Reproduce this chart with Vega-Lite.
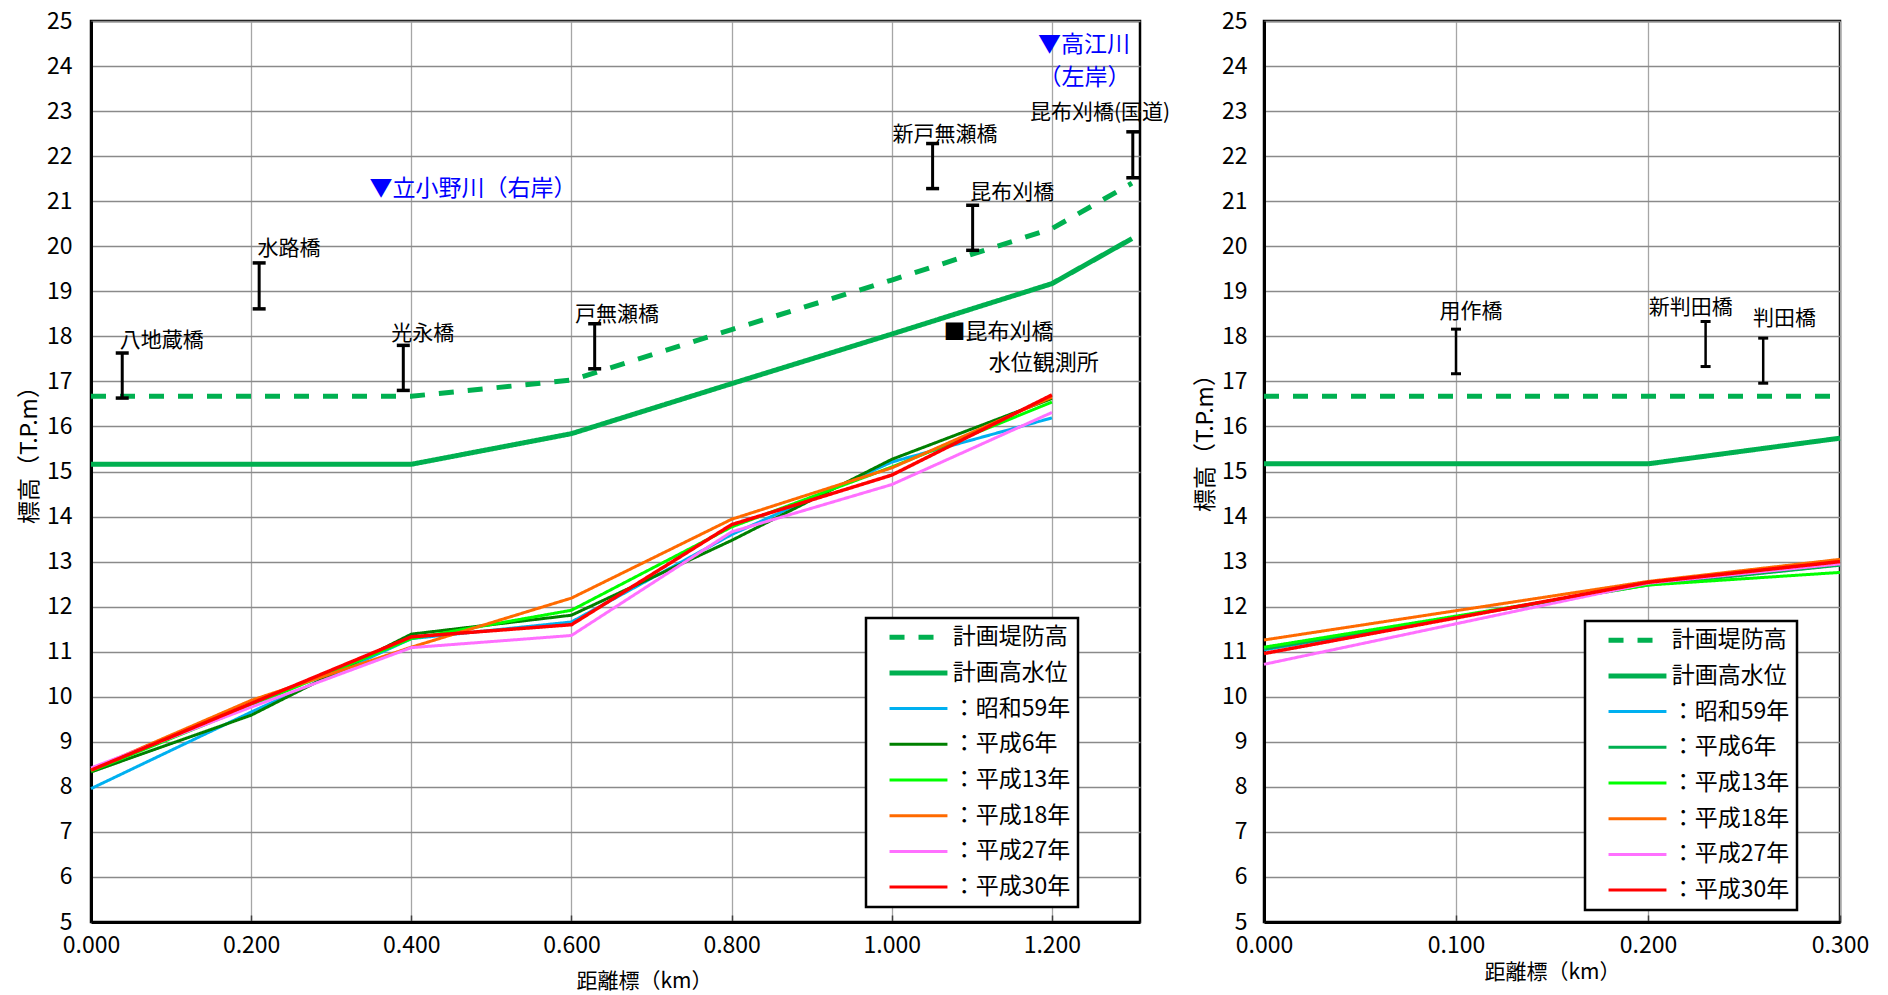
{
  "$schema": "https://vega.github.io/schema/vega-lite/v6.json",
  "padding": {"left": 16, "top": 8, "right": 0, "bottom": 0},
  "background": "white",
  "datasets": {
    "profileL": [
      {"series": "計画堤防高", "km": 0, "elev": 16.67},
      {"series": "計画堤防高", "km": 0.2, "elev": 16.67},
      {"series": "計画堤防高", "km": 0.4, "elev": 16.67},
      {"series": "計画堤防高", "km": 0.6, "elev": 17.03},
      {"series": "計画堤防高", "km": 0.8, "elev": 18.15},
      {"series": "計画堤防高", "km": 1.0, "elev": 19.25},
      {"series": "計画堤防高", "km": 1.2, "elev": 20.39},
      {"series": "計画堤防高", "km": 1.3, "elev": 21.4},
      {"series": "計画高水位", "km": 0, "elev": 15.16},
      {"series": "計画高水位", "km": 0.2, "elev": 15.16},
      {"series": "計画高水位", "km": 0.4, "elev": 15.16},
      {"series": "計画高水位", "km": 0.6, "elev": 15.84},
      {"series": "計画高水位", "km": 0.8, "elev": 16.95},
      {"series": "計画高水位", "km": 1.0, "elev": 18.05},
      {"series": "計画高水位", "km": 1.2, "elev": 19.17},
      {"series": "計画高水位", "km": 1.3, "elev": 20.17},
      {"series": "：昭和59年", "km": 0, "elev": 7.96},
      {"series": "：昭和59年", "km": 0.2, "elev": 9.66},
      {"series": "：昭和59年", "km": 0.4, "elev": 11.29},
      {"series": "：昭和59年", "km": 0.6, "elev": 11.66},
      {"series": "：昭和59年", "km": 0.8, "elev": 13.6},
      {"series": "：昭和59年", "km": 1.0, "elev": 15.21},
      {"series": "：昭和59年", "km": 1.2, "elev": 16.19},
      {"series": "：平成6年", "km": 0, "elev": 8.33},
      {"series": "：平成6年", "km": 0.2, "elev": 9.59},
      {"series": "：平成6年", "km": 0.4, "elev": 11.39},
      {"series": "：平成6年", "km": 0.6, "elev": 11.81},
      {"series": "：平成6年", "km": 0.8, "elev": 13.47},
      {"series": "：平成6年", "km": 1.0, "elev": 15.27},
      {"series": "：平成6年", "km": 1.2, "elev": 16.62},
      {"series": "：平成13年", "km": 0, "elev": 8.35},
      {"series": "：平成13年", "km": 0.2, "elev": 9.8},
      {"series": "：平成13年", "km": 0.4, "elev": 11.29},
      {"series": "：平成13年", "km": 0.6, "elev": 11.92},
      {"series": "：平成13年", "km": 0.8, "elev": 13.77},
      {"series": "：平成13年", "km": 1.0, "elev": 15.1},
      {"series": "：平成13年", "km": 1.2, "elev": 16.54},
      {"series": "：平成18年", "km": 0, "elev": 8.38},
      {"series": "：平成18年", "km": 0.2, "elev": 9.92},
      {"series": "：平成18年", "km": 0.4, "elev": 11.1},
      {"series": "：平成18年", "km": 0.6, "elev": 12.19},
      {"series": "：平成18年", "km": 0.8, "elev": 13.94},
      {"series": "：平成18年", "km": 1.0, "elev": 15.08},
      {"series": "：平成18年", "km": 1.2, "elev": 16.65},
      {"series": "：平成27年", "km": 0, "elev": 8.42},
      {"series": "：平成27年", "km": 0.2, "elev": 9.77},
      {"series": "：平成27年", "km": 0.4, "elev": 11.09},
      {"series": "：平成27年", "km": 0.6, "elev": 11.36},
      {"series": "：平成27年", "km": 0.8, "elev": 13.66},
      {"series": "：平成27年", "km": 1.0, "elev": 14.71},
      {"series": "：平成27年", "km": 1.2, "elev": 16.31},
      {"series": "：平成30年", "km": 0, "elev": 8.37},
      {"series": "：平成30年", "km": 0.2, "elev": 9.85},
      {"series": "：平成30年", "km": 0.4, "elev": 11.33},
      {"series": "：平成30年", "km": 0.6, "elev": 11.6},
      {"series": "：平成30年", "km": 0.8, "elev": 13.82},
      {"series": "：平成30年", "km": 1.0, "elev": 14.92},
      {"series": "：平成30年", "km": 1.2, "elev": 16.7}
    ],
    "profileR": [
      {"series": "計画堤防高", "km": 0, "elev": 16.67},
      {"series": "計画堤防高", "km": 0.3, "elev": 16.67},
      {"series": "計画高水位", "km": 0, "elev": 15.17},
      {"series": "計画高水位", "km": 0.2, "elev": 15.17},
      {"series": "計画高水位", "km": 0.3, "elev": 15.74},
      {"series": "：昭和59年", "km": 0, "elev": 11.04},
      {"series": "：昭和59年", "km": 0.2, "elev": 12.5},
      {"series": "：昭和59年", "km": 0.3, "elev": 12.93},
      {"series": "：平成6年", "km": 0, "elev": 11.06},
      {"series": "：平成6年", "km": 0.2, "elev": 12.48},
      {"series": "：平成6年", "km": 0.3, "elev": 12.92},
      {"series": "：平成13年", "km": 0, "elev": 11.1},
      {"series": "：平成13年", "km": 0.2, "elev": 12.48},
      {"series": "：平成13年", "km": 0.3, "elev": 12.76},
      {"series": "：平成18年", "km": 0, "elev": 11.26},
      {"series": "：平成18年", "km": 0.2, "elev": 12.56},
      {"series": "：平成18年", "km": 0.3, "elev": 13.05},
      {"series": "：平成27年", "km": 0, "elev": 10.72},
      {"series": "：平成27年", "km": 0.2, "elev": 12.52},
      {"series": "：平成27年", "km": 0.3, "elev": 12.95},
      {"series": "：平成30年", "km": 0, "elev": 10.96},
      {"series": "：平成30年", "km": 0.2, "elev": 12.54},
      {"series": "：平成30年", "km": 0.3, "elev": 13.0}
    ],
    "bridgesL": [
      {"bridge": "八地蔵橋", "km": 0.039, "top": 17.63, "bottom": 16.63},
      {"bridge": "水路橋", "km": 0.21, "top": 19.63, "bottom": 18.61},
      {"bridge": "光永橋", "km": 0.39, "top": 17.8, "bottom": 16.8},
      {"bridge": "戸無瀬橋", "km": 0.629, "top": 18.28, "bottom": 17.28},
      {"bridge": "新戸無瀬橋", "km": 1.051, "top": 22.28, "bottom": 21.28},
      {"bridge": "昆布刈橋", "km": 1.101, "top": 20.91, "bottom": 19.91},
      {"bridge": "昆布刈橋(国道)", "km": 1.301, "top": 22.54, "bottom": 21.52}
    ],
    "bridgesR": [
      {"bridge": "用作橋", "km": 0.1, "top": 18.16, "bottom": 17.17},
      {"bridge": "新判田橋", "km": 0.23, "top": 18.33, "bottom": 17.33},
      {"bridge": "判田橋", "km": 0.26, "top": 17.96, "bottom": 16.96}
    ],
    "labelsL": [
      {"label": "八地蔵橋", "kind": "bridge", "km": 0.036, "elev": 17.9},
      {"label": "水路橋", "kind": "bridge", "km": 0.208, "elev": 19.95},
      {"label": "光永橋", "kind": "bridge", "km": 0.375, "elev": 18.06},
      {"label": "戸無瀬橋", "kind": "bridge", "km": 0.6045, "elev": 18.47},
      {"label": "新戸無瀬橋", "kind": "bridge", "km": 1.001, "elev": 22.48},
      {"label": "昆布刈橋", "kind": "bridge", "km": 1.098, "elev": 21.18},
      {"label": "昆布刈橋(国道)", "kind": "bridge", "km": 1.1725, "elev": 22.96},
      {"label": "▼立小野川（右岸）", "kind": "tributary", "km": 0.4769, "elev": 21.28},
      {"label": "▼高江川", "kind": "tributary", "km": 1.24, "elev": 24.47},
      {"label": "（左岸）", "kind": "tributary", "km": 1.2406, "elev": 23.74},
      {"label": "■昆布刈橋", "kind": "station", "km": 1.0646, "elev": 18.1},
      {"label": "水位観測所", "kind": "station", "km": 1.121, "elev": 17.41}
    ],
    "labelsR": [
      {"label": "用作橋", "kind": "bridge", "km": 0.0914, "elev": 18.53},
      {"label": "新判田橋", "kind": "bridge", "km": 0.2004, "elev": 18.64},
      {"label": "判田橋", "kind": "bridge", "km": 0.2547, "elev": 18.39}
    ]
  },
  "spacing": 124,
  "bounds": "flush",
  "resolve": {
    "scale": {"color": "independent", "strokeDash": "independent", "x": "independent", "y": "independent"},
    "legend": {"color": "independent", "strokeDash": "independent"}
  },
  "hconcat": [
    {
      "width": 1049,
      "height": 901,
      "layer": [
        {
          "data": {"name": "profileL"},
          "mark": {"type": "line", "strokeJoin": "round"},
          "encoding": {
            "x": {
              "field": "km", "type": "quantitative",
              "scale": {"domain": [0, 1.31], "nice": false, "zero": false},
              "axis": {"values": [0, 0.2, 0.4, 0.6, 0.8, 1.0, 1.2], "format": ".3f", "title": "距離標（km）", "titleX": 553, "titleY": 59, "titleBaseline": "middle"}
            },
            "y": {
              "field": "elev", "type": "quantitative",
              "scale": {"domain": [5, 25], "nice": false, "zero": false},
              "axis": {"values": [5, 6, 7, 8, 9, 10, 11, 12, 13, 14, 15, 16, 17, 18, 19, 20, 21, 22, 23, 24, 25], "title": "標高（T.P.m）", "titleX": -62, "titleY": 428, "titleBaseline": "middle", "labelPadding": 19}
            },
            "color": {
              "field": "series", "type": "nominal",
              "scale": {
                "domain": ["計画堤防高", "計画高水位", "：昭和59年", "：平成6年", "：平成13年", "：平成18年", "：平成27年", "：平成30年"],
                "range": ["#00b050", "#00b050", "#00b0f0", "#008000", "#00ff00", "#ff6a00", "#ff70ff", "#ff0000"]
              },
              "legend": {"legendX": 775, "legendY": 597, "encode": {"symbols": {"update": {"strokeWidth": {"signal": "indexof(['計画堤防高','計画高水位'], datum.value) >= 0 ? 5 : 3"}}}}}
            },
            "strokeDash": {
              "field": "series", "type": "nominal",
              "scale": {
                "domain": ["計画堤防高", "計画高水位", "：昭和59年", "：平成6年", "：平成13年", "：平成18年", "：平成27年", "：平成30年"],
                "range": [[15, 14], [1, 0], [1, 0], [1, 0], [1, 0], [1, 0], [1, 0], [1, 0]]
              },
              "legend": {"legendX": 775, "legendY": 597}
            },
            "strokeWidth": {
              "condition": [
                {"test": "datum.series === '計画堤防高' || datum.series === '計画高水位'", "value": 5},
                {"test": "datum.series === '：平成30年'", "value": 3.5}
              ],
              "value": 3
            }
          }
        },
        {
          "data": {"name": "bridgesL"},
          "mark": {"type": "rule", "color": "black", "strokeWidth": 3},
          "encoding": {"x": {"field": "km", "type": "quantitative"}, "y": {"field": "top", "type": "quantitative"}, "y2": {"field": "bottom"}}
        },
        {
          "data": {"name": "bridgesL"},
          "mark": {"type": "tick", "orient": "horizontal", "color": "black", "size": 13, "thickness": 3.5, "opacity": 1},
          "encoding": {"x": {"field": "km", "type": "quantitative"}, "y": {"field": "top", "type": "quantitative"}}
        },
        {
          "data": {"name": "bridgesL"},
          "mark": {"type": "tick", "orient": "horizontal", "color": "black", "size": 13, "thickness": 3.5, "opacity": 1},
          "encoding": {"x": {"field": "km", "type": "quantitative"}, "y": {"field": "bottom", "type": "quantitative"}}
        },
        {
          "data": {"name": "labelsL"},
          "transform": [{"filter": "datum.kind === 'bridge'"}],
          "mark": {"type": "text", "align": "left", "baseline": "middle", "fontSize": 21, "font": "Noto Sans CJK JP", "color": "black"},
          "encoding": {"x": {"field": "km", "type": "quantitative"}, "y": {"field": "elev", "type": "quantitative"}, "text": {"field": "label"}}
        },
        {
          "data": {"name": "labelsL"},
          "transform": [{"filter": "datum.kind === 'tributary'"}],
          "mark": {"type": "text", "align": "center", "baseline": "middle", "fontSize": 23, "font": "Noto Sans CJK JP", "color": "#0000ff"},
          "encoding": {"x": {"field": "km", "type": "quantitative"}, "y": {"field": "elev", "type": "quantitative"}, "text": {"field": "label"}}
        },
        {
          "data": {"name": "labelsL"},
          "transform": [{"filter": "datum.kind === 'station'"}],
          "mark": {"type": "text", "align": "left", "baseline": "middle", "fontSize": 22, "font": "Noto Sans CJK JP", "color": "black"},
          "encoding": {"x": {"field": "km", "type": "quantitative"}, "y": {"field": "elev", "type": "quantitative"}, "text": {"field": "label"}}
        }
      ]
    },
    {
      "width": 576,
      "height": 901,
      "layer": [
        {
          "data": {"name": "profileR"},
          "mark": {"type": "line", "strokeJoin": "round"},
          "encoding": {
            "x": {
              "field": "km", "type": "quantitative",
              "scale": {"domain": [0, 0.3], "nice": false, "zero": false},
              "axis": {"values": [0, 0.1, 0.2, 0.3], "format": ".3f", "title": "距離標（km）", "titleX": 288, "titleY": 50, "titleBaseline": "middle"}
            },
            "y": {
              "field": "elev", "type": "quantitative",
              "scale": {"domain": [5, 25], "nice": false, "zero": false},
              "axis": {"values": [5, 6, 7, 8, 9, 10, 11, 12, 13, 14, 15, 16, 17, 18, 19, 20, 21, 22, 23, 24, 25], "title": "標高（T.P.m）", "titleX": -59, "titleY": 416, "titleBaseline": "middle", "labelPadding": 17}
            },
            "color": {
              "field": "series", "type": "nominal",
              "scale": {
                "domain": ["計画堤防高", "計画高水位", "：昭和59年", "：平成6年", "：平成13年", "：平成18年", "：平成27年", "：平成30年"],
                "range": ["#00b050", "#00b050", "#00b0f0", "#00b050", "#00ff00", "#ff6a00", "#ff70ff", "#ff0000"]
              },
              "legend": {"legendX": 321, "legendY": 600, "encode": {"symbols": {"update": {"strokeWidth": {"signal": "indexof(['計画堤防高','計画高水位'], datum.value) >= 0 ? 5 : 3"}}}}}
            },
            "strokeDash": {
              "field": "series", "type": "nominal",
              "scale": {
                "domain": ["計画堤防高", "計画高水位", "：昭和59年", "：平成6年", "：平成13年", "：平成18年", "：平成27年", "：平成30年"],
                "range": [[15, 14], [1, 0], [1, 0], [1, 0], [1, 0], [1, 0], [1, 0], [1, 0]]
              },
              "legend": {"legendX": 321, "legendY": 600}
            },
            "strokeWidth": {
              "condition": [
                {"test": "datum.series === '計画堤防高' || datum.series === '計画高水位'", "value": 5},
                {"test": "datum.series === '：平成30年'", "value": 3.5}
              ],
              "value": 3
            }
          }
        },
        {
          "data": {"name": "bridgesR"},
          "mark": {"type": "rule", "color": "black", "strokeWidth": 2.5},
          "encoding": {"x": {"field": "km", "type": "quantitative"}, "y": {"field": "top", "type": "quantitative"}, "y2": {"field": "bottom"}}
        },
        {
          "data": {"name": "bridgesR"},
          "mark": {"type": "tick", "orient": "horizontal", "color": "black", "size": 10, "thickness": 3, "opacity": 1},
          "encoding": {"x": {"field": "km", "type": "quantitative"}, "y": {"field": "top", "type": "quantitative"}}
        },
        {
          "data": {"name": "bridgesR"},
          "mark": {"type": "tick", "orient": "horizontal", "color": "black", "size": 10, "thickness": 3, "opacity": 1},
          "encoding": {"x": {"field": "km", "type": "quantitative"}, "y": {"field": "bottom", "type": "quantitative"}}
        },
        {
          "data": {"name": "labelsR"},
          "mark": {"type": "text", "align": "left", "baseline": "middle", "fontSize": 21, "font": "Noto Sans CJK JP", "color": "black"},
          "encoding": {"x": {"field": "km", "type": "quantitative"}, "y": {"field": "elev", "type": "quantitative"}, "text": {"field": "label"}}
        }
      ]
    }
  ],
  "config": {
    "font": "Noto Sans CJK JP",
    "view": {"stroke": "black", "strokeWidth": 2.5},
    "axis": {
      "labelFont": "Noto Sans CJK JP", "titleFont": "Noto Sans CJK JP",
      "labelColor": "black", "titleColor": "black",
      "labelFontSize": 23, "titleFontWeight": "normal",
      "ticks": false, "domainColor": "black", "domainWidth": 3,
      "grid": true, "gridOpacity": 1, "labelFlush": false, "labelOverlap": false
    },
    "axisX": {"gridColor": "#a6a6a6", "gridWidth": 1.3, "titleFontSize": 21, "ticks": true, "tickSize": -7, "tickColor": "#404040", "tickWidth": 1.5, "labelPadding": 19},
    "axisY": {"gridColor": "#8a8a8a", "gridWidth": 1.6, "titleFontSize": 23},
    "legend": {
      "title": null,
      "orient": "none",
      "symbolType": "M0.5,0H7.2",
      "symbolSize": 299,
      "symbolStrokeWidth": 3,
      "labelFont": "Noto Sans CJK JP",
      "labelFontSize": 23,
      "labelColor": "black",
      "labelOffset": 56,
      "labelLimit": 400,
      "padding": 7.7,
      "rowPadding": 11.7,
      "strokeColor": "black",
      "fillColor": "white",
      "strokeWidth": 2.5
    }
  }
}
